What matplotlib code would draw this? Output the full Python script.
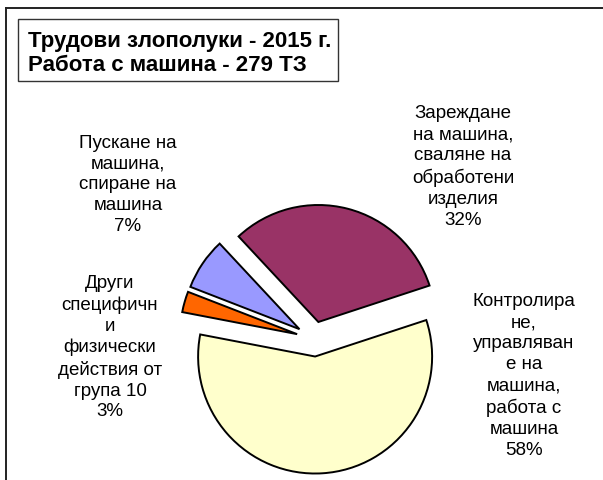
import matplotlib
matplotlib.use('Agg')
import matplotlib.pyplot as plt
from matplotlib.patches import Rectangle
from matplotlib.lines import Line2D

# accident counts (279 total), clockwise from the purple slice
labels = ['Зареждане\nна машина,\nсваляне на\nобработени\nизделия',
          'Контролира\nне,\nуправляван\nе на\nмашина,\nработа с\nмашина',
          'Други\nспецифичн\nи\nфизически\nдействия от\nгрупа 10',
          'Пускане на\nмашина,\nспиране на\nмашина']
counts = [89, 162, 8, 20]
colors = ['#993366', '#FFFFCC', '#FF6600', '#9999FF']
# label block centres in pixels (x, y from top)
label_pos = [(463, 167), (524, 376), (110, 348), (128, 185)]

plt.rcParams['font.family'] = ['Liberation Sans', 'DejaVu Sans']

W, H = 603, 481
fig = plt.figure(figsize=(W / 100, H / 100), dpi=100)
ax = fig.add_axes([0, 0, 1, 1])

cx, cy, r = 314, 340, 117  # pie centre and radius in pixels
ax.pie(counts, colors=colors, startangle=133, counterclock=False,
       explode=[0.15] * 4, radius=1,
       wedgeprops=dict(edgecolor='black', linewidth=1.4))
ax.set_xlim(-cx / r, (W - cx) / r)
ax.set_ylim(-(H - cy) / r, cy / r)
ax.set_aspect('auto')
ax.axis('off')

total = sum(counts)
for lab, n, (px, py) in zip(labels, counts, label_pos):
    fig.text(px / W, 1 - py / H, f'{lab}\n{round(100 * n / total)}%',
             ha='center', va='center', fontsize=13.5, linespacing=1.3,
             color='black')

# outer chart border (cut off at right and bottom)
fig.add_artist(Line2D([5.5 / W, 5.5 / W], [0, 1 - 8.5 / H], color='#222222',
                      linewidth=1.4, transform=fig.transFigure))
fig.add_artist(Line2D([5.5 / W, 1], [1 - 8.5 / H, 1 - 8.5 / H], color='#222222',
                      linewidth=1.4, transform=fig.transFigure))

# title box
fig.add_artist(Rectangle((17.5 / W, 1 - 81.5 / H), 320.5 / W, 61.5 / H,
                         fill=False, edgecolor='#333333', linewidth=1.0,
                         transform=fig.transFigure))
fig.text(28 / W, 1 - 47 / H, 'Трудови злополуки - 2015 г.', fontsize=16,
         fontweight='bold', ha='left', va='baseline')
fig.text(28 / W, 1 - 71 / H, 'Работа с машина - 279 ТЗ', fontsize=16,
         fontweight='bold', ha='left', va='baseline')

fig.savefig('out.png', dpi=100, facecolor='white')
